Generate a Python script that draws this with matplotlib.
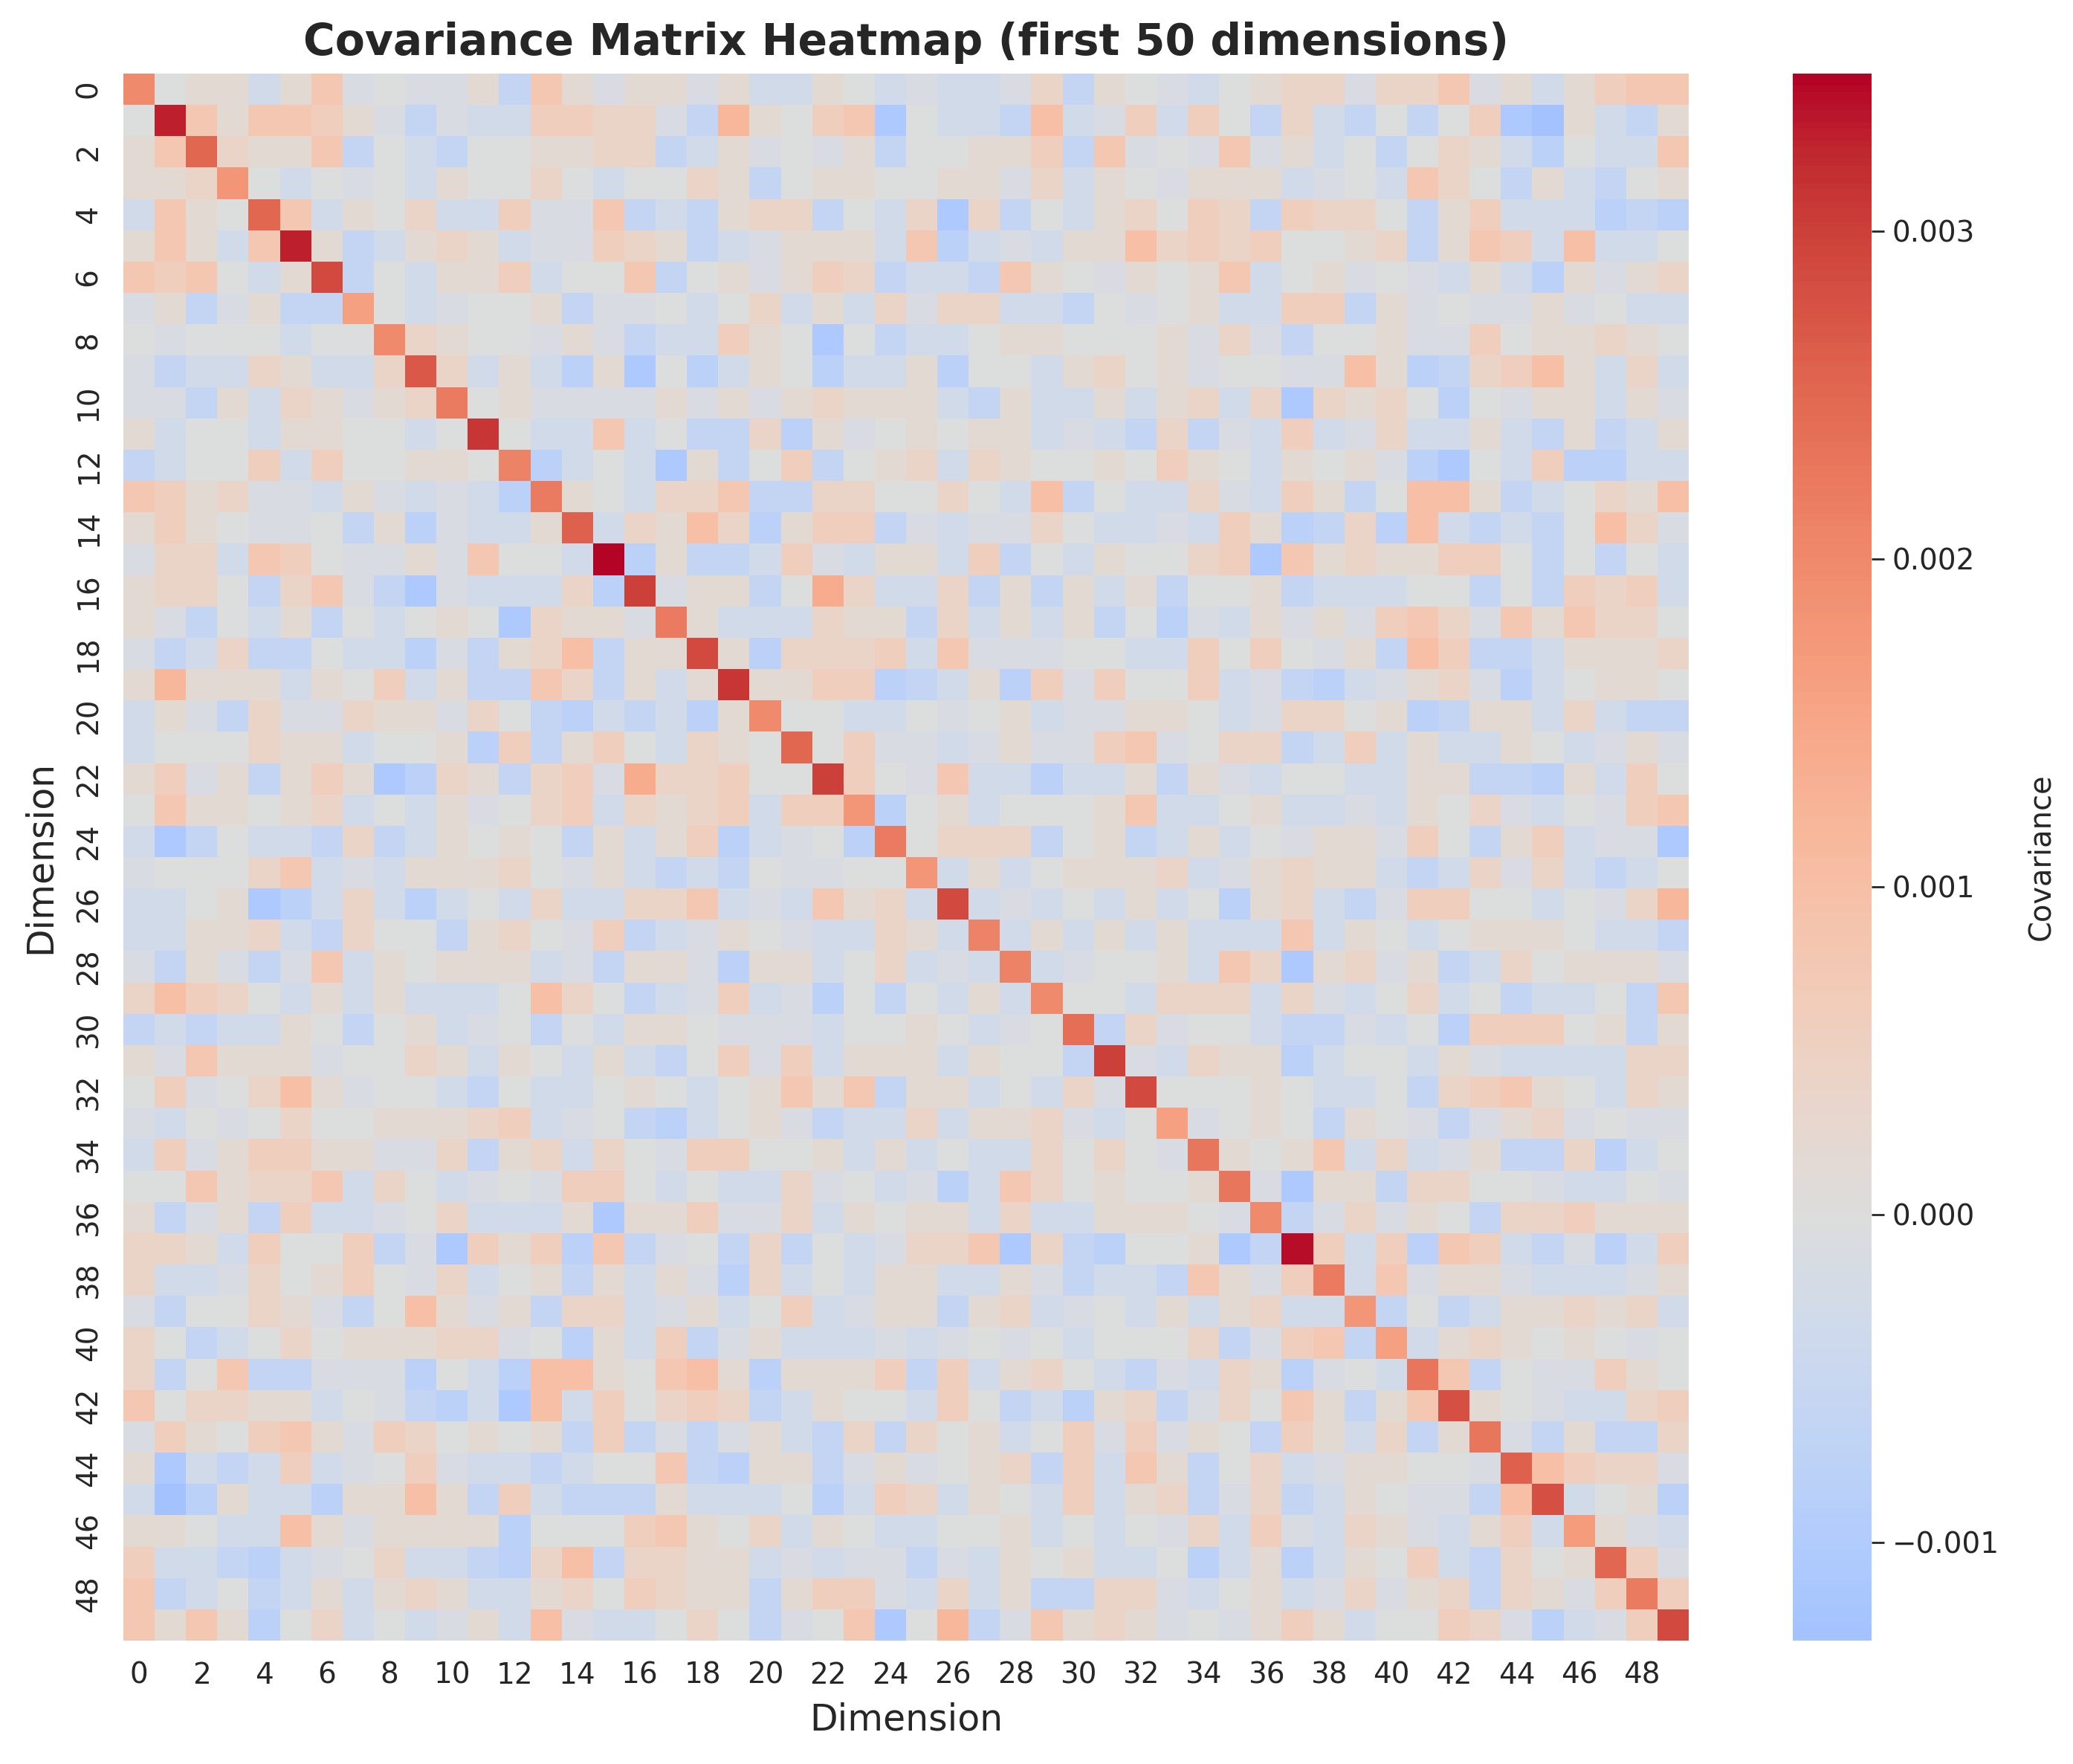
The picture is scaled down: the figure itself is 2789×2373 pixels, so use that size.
import numpy as np
import matplotlib
matplotlib.use('Agg')
import matplotlib.pyplot as plt
import seaborn as sns

N_DIMS = 50

# colour levels: one character per cell
LEVELS = {'a': -0.0013, 'A': -0.0011, 'B': -0.0008, 'C': -0.0006, 'D': -0.0003,
          'E': -0.00012, '0': 0.0, '1': 0.00018, '2': 0.0004, '3': 0.0006,
          '4': 0.0008, '5': 0.0010, '6': 0.0012, '7': 0.0014}

# variances on the diagonal
DIAG = [0.0020, 0.0033, 0.0025, 0.0018, 0.0025, 0.0033, 0.0029, 0.0016, 0.0020, 0.0027,
        0.0022, 0.0031, 0.0021, 0.0022, 0.0026, 0.00348, 0.0030, 0.0022, 0.0029, 0.0031,
        0.0020, 0.0025, 0.0030, 0.0018, 0.0022, 0.0018, 0.0029, 0.0021, 0.0021, 0.0020,
        0.0024, 0.0030, 0.0029, 0.0016, 0.0023, 0.0023, 0.0020, 0.0034, 0.0022, 0.0018,
        0.0016, 0.0023, 0.0028, 0.0023, 0.0026, 0.0028, 0.0017, 0.0025, 0.0022, 0.0029]

# upper triangle, row i holds columns i+1 .. 49
UPPER = [
    "011D14E0EE1C41E1" "1E1DD10DEDDE2C10E" "D0122E224E1D1344",
    "414431ECEDD3322" "EC61034A0DDC5DE3D" "30C2DC0C03Aa1DC1",
    "2114C0DC001122" "CD1E0E1C00113C4E0" "E4E1D0C021DB0DD4",
    "0D0E0D10020D0" "021C0110011E2D10E" "111DE0D420C1DC01",
    "4D102DD3EE4C" "DC122C0D2A2C0D120" "32C3220C13DDDBCB",
    "1CD121DEE32" "1CDE111D4BDED1152" "3230012C143D5DD0",
    "C0D113D004" "C01E132CDDC410E10" "14D01E0ED1DB1E12",
    "0DE001CEE" "0D02D1D2E22DDC0E0" "1DD33C1E0EE1E0DD",
    "2100E1EC" "DD310A0CDD0110001" "E2EC001EE3011210",
    "2D1DB1A" "0BD10BDD1B00D1201" "E00EE51BC2351D2D",
    "01EEEE" "1E1E12111DC1DD1D1" "2D2A2120B0E11D1E",
    "0DD4D" "0CC2B1E01011DEDC2" "CED3DE2DD1DC1CD1",
    "BD0D" "A1C03C012D2100103" "10D101EBA0D3BBDD",
    "10D" "224CC220020D5C0DD" "2ED31C0551CD0215",
    "D2" "152B133CEDEE20DDE" "D31BC2B5DCDC052E",
    "B" "1CCD3ED11D3C0D100" "23A41211330C0C0D",
    "E11C072DD2C1C1D1C" "001CDDD00C0C323D",
    "1DDD211C2D1D1C0B" "ED1E1E342E414220",
    "1B2223D4EEE00DD" "3030E1C53CCD1112",
    "1133BCD1B3E300" "3DECBDE12EBD0110",
    "00DD0E01DEE11" "0DE2201BC11D2DCC",
    "03EEDE1EE34E" "022CD3D1DD10DE1E",
    "30E4DDBDD1C" "1ED00DD11CCB1D30",
    "B01D00014D" "D01DDED102ED0E34",
    "0222C01CD" "1D0E11E30C13DEEA",
    "D1D01112" "DE1211DCD2E2DCD0",
    "DED0D1D" "0B12DCE3300D0E26",
    "D1D1D1" "DDD4D10D01110DDC",
    "DE001" "D42A12E1CD20111E",
    "00D2" "22D2ED02D0CDD0C4",
    "C2E" "00DCCED0B33301C1",
    "ED" "211BD00D1EDDDD22",
    "0" "0010DD0C23410D21",
    "E010C10ECE12E0EE",
    "1014D2DE1CC2BD0",
    "EA11C2200EDD0E",
    "CE2E10C223111",
    "3D3B43DCEBD3",
    "D4E11EDDDE1",
    "C0CD11212D",
    "D121010E0",
    "4C0EE310",
    "10EDD23",
    "EC1CC2",
    "5322E",
    "D01B",
    "1ED",
    "3E",
    "3",
]


def build_matrix():
    cov = np.diag(np.array(DIAG, dtype=float))
    for i, row in enumerate(UPPER):
        if len(row) != N_DIMS - 1 - i:
            raise ValueError(f'row {i} has {len(row)} cells')
        for k, ch in enumerate(row):
            j = i + 1 + k
            cov[i, j] = cov[j, i] = LEVELS[ch]
    return cov


def main():
    cov = build_matrix()

    sns.set_style('white')
    text_col = '.15'
    W, H = 2789, 2373
    fig = plt.figure(figsize=(W / 200, H / 200), dpi=200)
    ax = fig.add_axes([166 / W, 1 - 2207 / H, 2106 / W, 2108 / H])
    cax = fig.add_axes([2412 / W, 1 - 2207 / H, 106 / W, 2108 / H])

    sns.heatmap(cov, cmap='coolwarm', center=0, ax=ax, cbar_ax=cax,
                xticklabels=2, yticklabels=2, cbar_kws={'label': 'Covariance'})

    ax.set_title('Covariance Matrix Heatmap (first 50 dimensions)', fontsize=21,
                 fontweight='bold', color=text_col, pad=9)
    ax.set_xlabel('Dimension', fontsize=17.6, color=text_col, labelpad=6)
    ax.set_ylabel('Dimension', fontsize=17.6, color=text_col, labelpad=8)
    ax.tick_params(axis='both', length=0, labelsize=14, pad=10, colors=text_col)

    cax.tick_params(labelsize=14, length=6, width=1, pad=4, colors=text_col)
    cax.set_ylabel('Covariance', fontsize=14.4, color=text_col, labelpad=13)

    fig.savefig('out.png', dpi=200)


if __name__ == '__main__':
    main()
